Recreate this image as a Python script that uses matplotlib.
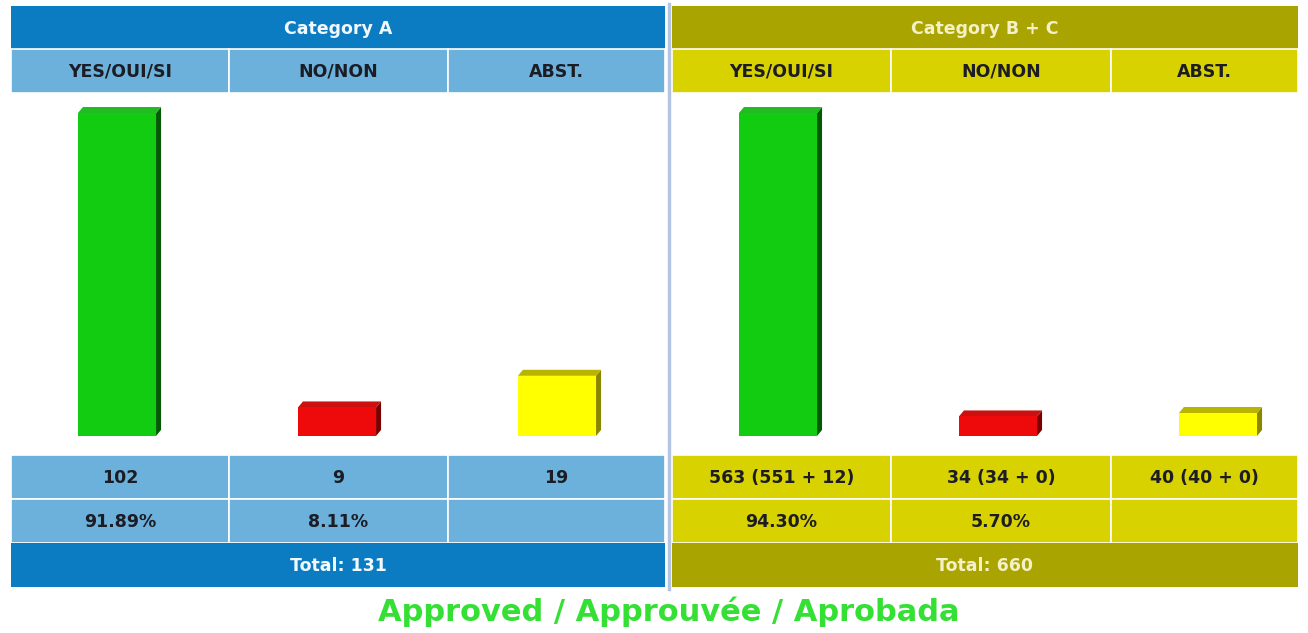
import numpy as np
import matplotlib
matplotlib.use("Agg")
import matplotlib.pyplot as plt
from matplotlib.patches import Rectangle, Polygon

# ─── Données ────────────────────────────────────────────────────────────────
categories = ["YES/OUI/SI", "NO/NON", "ABST."]
panel_titles = ["Category A", "Category B + C"]
votes_a = [102, 9, 19]
votes_b = [563, 34, 40]
votes_b_split = [(551, 12), (34, 0), (40, 0)]
pct_a = ["91.89%", "8.11%", ""]
pct_b = ["94.30%", "5.70%", ""]
totals = [131, 660]
result_text = "Approved / Approuvée / Aprobada"

W, H = 1308, 633
fig = plt.figure(figsize=(W / 100, H / 100), dpi=100)
bg = fig.add_axes([0, 0, 1, 1])
bg.set_xlim(0, W)
bg.set_ylim(H, 0)
bg.axis("off")

# couleurs
themes = [
    {"dark": "#0b7cc2", "light": "#6cb1dc", "title_fg": "#f2f8ff"},
    {"dark": "#aaa400", "light": "#d8d200", "title_fg": "#f4f0c8"},
]
bar_colors = ["#11cc11", "#ee0a0a", "#ffff00"]
side_colors = ["#045a04", "#7a0000", "#8a8600"]
top_colors = ["#22bb22", "#cc1010", "#b8b400"]

panels = [(11, 665, [11, 229, 448, 665]), (672, 1298, [672, 891, 1111, 1298])]
ROW_HDR = (6, 49)
ROW_COL = (49, 93)
ROW_PLOT = (93, 455)
ROW_VAL = (455, 499)
ROW_PCT = (499, 543)
ROW_TOT = (543, 587)
FS = 12.5
TXT = "#1c1c24"


def cell(x0, x1, y0, y1, color):
    bg.add_patch(Rectangle((x0, y0), x1 - x0, y1 - y0, facecolor=color,
                           edgecolor="white", linewidth=1.2))


value_labels = [
    [str(v) for v in votes_a],
    [f"{v} ({a} + {b})" for v, (a, b) in zip(votes_b, votes_b_split)],
]
pct_labels = [pct_a, pct_b]
values = [votes_a, votes_b]

for p, (x0, x1, cols) in enumerate(panels):
    th = themes[p]
    # titre
    bg.add_patch(Rectangle((x0, ROW_HDR[0]), x1 - x0, ROW_HDR[1] - ROW_HDR[0],
                           facecolor=th["dark"], edgecolor="none"))
    bg.text((x0 + x1) / 2, sum(ROW_HDR) / 2 + 1, panel_titles[p], color=th["title_fg"],
            ha="center", va="center", fontsize=FS, fontweight="bold")
    # en-têtes, valeurs, pourcentages
    for c in range(3):
        cx = (cols[c] + cols[c + 1]) / 2
        cell(cols[c], cols[c + 1], *ROW_COL, th["light"])
        bg.text(cx, sum(ROW_COL) / 2 + 1, categories[c], ha="center", va="center",
                fontsize=FS, fontweight="bold", color=TXT)
        cell(cols[c], cols[c + 1], *ROW_VAL, th["light"])
        bg.text(cx, sum(ROW_VAL) / 2 + 1, value_labels[p][c], ha="center", va="center",
                fontsize=FS, fontweight="bold", color=TXT)
        cell(cols[c], cols[c + 1], *ROW_PCT, th["light"])
        bg.text(cx, sum(ROW_PCT) / 2 + 1, pct_labels[p][c], ha="center", va="center",
                fontsize=FS, fontweight="bold", color=TXT)
    # total
    bg.add_patch(Rectangle((x0, ROW_TOT[0]), x1 - x0, ROW_TOT[1] - ROW_TOT[0],
                           facecolor=th["dark"], edgecolor="none"))
    bg.text((x0 + x1) / 2, sum(ROW_TOT) / 2 + 1, f"Total: {totals[p]}", color=th["title_fg"],
            ha="center", va="center", fontsize=FS, fontweight="bold")

    # ─── zone des barres ───
    ax_w = 660
    ax = fig.add_axes([(x0 - 4) / W, 1 - ROW_PLOT[1] / H, ax_w / W,
                       (ROW_PLOT[1] - ROW_PLOT[0]) / H])
    ax.axis("off")
    vmax = max(values[p])
    ax.set_xlim(-0.5, 2.5)
    ax.set_ylim(-0.059 * vmax, 1.062 * vmax)
    xs = np.arange(3)
    width = 0.355
    ax.bar(xs, values[p], width=width, color=bar_colors, zorder=3)
    # effet 3D : face latérale et dessus
    dx = 5 * 3 / ax_w
    dy = 6 * (1.121 * vmax) / (ROW_PLOT[1] - ROW_PLOT[0])
    for i, v in enumerate(values[p]):
        l, r = xs[i] - width / 2, xs[i] + width / 2
        ax.add_patch(Polygon([(r, 0), (r + dx, dy), (r + dx, v + dy), (r, v)],
                             closed=True, facecolor=side_colors[i], edgecolor="none", zorder=2))
        ax.add_patch(Polygon([(l, v), (l + dx, v + dy), (r + dx, v + dy), (r, v)],
                             closed=True, facecolor=top_colors[i], edgecolor="none", zorder=2))

# séparateur vertical entre les panneaux
bg.plot([668.5, 668.5], [4, 589], color="#b4c4e4", linewidth=2.5)

bg.text(W / 2 + 15, 612, result_text, ha="center", va="center", fontsize=22,
        fontweight="bold", color="#33e033")

fig.savefig("out.png", dpi=100)
plt.close(fig)
